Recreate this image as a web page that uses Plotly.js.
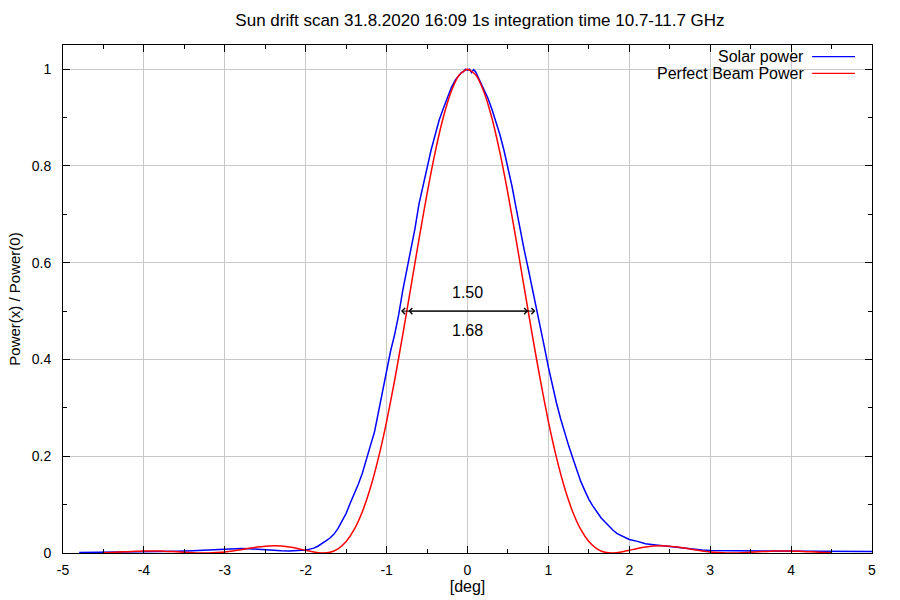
<!DOCTYPE html>
<html>
<head>
<meta charset="utf-8">
<script src="https://cdn.plot.ly/plotly-3.0.1.min.js"></script>
<style>html,body{margin:0;padding:0;background:#fff;}#chart{width:900px;height:600px;}</style>
</head>
<body>
<div id="chart"></div>
<script>
// Measured solar drift scan (blue)
const sunX = [-4.8,-4.6,-4.4,-4.2,-4.0,-3.8,-3.6,-3.4,-3.2,-3.0,-2.9,-2.8,-2.7,-2.6,-2.5,-2.4,-2.3,-2.2,-2.1,-2.05,
  -2.0,-1.95,-1.9,-1.85,-1.8,-1.75,-1.7,-1.65,-1.6,-1.55,-1.5,-1.45,-1.4,-1.35,-1.3,-1.25,-1.2,-1.15,-1.1,-1.05,
  -1.0,-0.95,-0.9,-0.85,-0.8,-0.75,-0.7,-0.65,-0.6,-0.55,-0.5,-0.45,-0.4,-0.35,-0.3,-0.25,-0.2,-0.15,-0.1,-0.075,
  -0.05,-0.025,0.0,0.025,0.05,0.075,0.1,0.15,0.2,0.25,0.3,0.35,0.4,0.45,0.5,0.55,0.6,0.65,0.7,0.75,0.8,0.85,0.9,
  0.95,1.0,1.05,1.1,1.15,1.2,1.25,1.3,1.35,1.4,1.45,1.5,1.55,1.6,1.65,1.7,1.75,1.8,1.85,1.9,1.95,2.0,
  2.1,2.2,2.3,2.4,2.5,2.6,2.7,2.8,2.9,3.0,3.5,4.05,4.1,4.5,5.0];
const sunY = [0.0010,0.0012,0.0015,0.0018,0.0020,0.0028,0.0035,0.0045,0.0060,0.0085,0.0090,0.0092,0.0088,0.0075,0.0060,0.0050,0.0045,0.0042,0.0045,0.0050,
  0.006,0.008,0.010,0.014,0.019,0.025,0.031,0.039,0.051,0.066,0.082,0.103,0.122,0.142,0.165,0.196,0.222,0.250,0.291,0.336,
  0.378,0.418,0.452,0.493,0.543,0.584,0.624,0.670,0.721,0.760,0.796,0.833,0.864,0.895,0.918,0.941,0.962,0.978,0.989,0.993,
  0.995,1.000,0.998,1.000,0.993,0.999,0.995,0.978,0.961,0.941,0.918,0.893,0.865,0.833,0.796,0.758,0.714,0.669,0.627,0.588,0.549,0.505,0.468,
  0.426,0.384,0.345,0.310,0.278,0.249,0.222,0.197,0.172,0.148,0.129,0.111,0.097,0.084,0.073,0.064,0.055,0.047,0.040,0.036,0.032,0.028,
  0.024,0.019,0.017,0.015,0.014,0.012,0.010,0.008,0.006,0.005,0.0045,0.0045,0.003,0.003,0.003];

// Perfect beam (red)
const beamX = [-4.5,-4.4,-4.3,-4.2,-4.1,-4.0,-3.9,-3.8,-3.7,-3.6,-3.5,-3.4,-3.3,-3.2,-3.1,-3.0,-2.9,-2.8,-2.7,-2.6,-2.5,-2.4,-2.3,-2.2,-2.1,
  -2.0,-1.9,-1.8,-1.7,-1.6,-1.5,-1.4,-1.3,-1.2,-1.1,-1.0,-0.9,-0.8,-0.7,-0.6,-0.5,-0.4,-0.3,-0.2,-0.1,
  0.0,0.1,0.2,0.3,0.4,0.5,0.6,0.7,0.8,0.9,1.0,1.1,1.2,1.3,1.4,1.5,1.6,1.7,1.8,1.9,2.0,
  2.1,2.2,2.3,2.4,2.5,2.6,2.7,2.8,2.9,3.0,3.1,3.2,3.3,3.4,3.5,3.6,3.7,3.8,3.9,4.0,4.1,4.2,4.3,4.4,4.5];
const beamY = [0.0006,0.0012,0.0020,0.0028,0.0035,0.0040,0.0042,0.0039,0.0033,0.0025,0.0015,0.0006,0.0001,0.0001,0.0008,0.0022,0.0043,0.0069,0.0096,0.0122,0.0141,0.0150,0.0145,0.0126,0.0094,
  0.0056,0.0020,0.0001,0.0014,0.0085,0.0236,0.0486,0.0853,0.1347,0.1970,0.2716,0.3576,0.4512,0.5495,0.6482,0.7426,0.8280,0.9000,0.9545,0.9884,
  1.0000,0.9884,0.9545,0.9000,0.8280,0.7426,0.6482,0.5495,0.4512,0.3576,0.2716,0.1970,0.1347,0.0853,0.0486,0.0236,0.0085,0.0014,0.0001,0.0020,0.0056,
  0.0094,0.0126,0.0145,0.0150,0.0141,0.0122,0.0096,0.0069,0.0043,0.0022,0.0008,0.0001,0.0001,0.0006,0.0015,0.0025,0.0033,0.0039,0.0042,0.0040,0.0035,0.0028,0.0020,0.0012,0.0006];

const seriesNames = ['Solar power', 'Perfect Beam Power'];
const seriesColors = ['#0000ff', '#ff0000'];
const fwhmBeam = 1.50;
const fwhmSun = 1.68;
const halfLevel = 0.5;
const xTicks = [-5,-4,-3,-2,-1,0,1,2,3,4,5];
const yTicks = [0,0.2,0.4,0.6,0.8,1];
const yTickText = ['0','0.2','0.4','0.6','0.8','1'];

const FONT = '"Liberation Sans", Arial, Helvetica, sans-serif';

const traces = [
  {x: sunX, y: sunY, mode: 'lines', name: seriesNames[0], line: {color: seriesColors[0], width: 1.5}, showlegend: false, hoverinfo: 'skip'},
  {x: beamX, y: beamY, mode: 'lines', name: seriesNames[1], line: {color: seriesColors[1], width: 1.5, shape: 'spline', smoothing: 0.6}, showlegend: false, hoverinfo: 'skip'}
];

function fwhmArrow(w) {
  return {x: w / 2, y: halfLevel, ax: -w / 2, ay: halfLevel, xref: 'x', yref: 'y', axref: 'x', ayref: 'y',
    text: '', showarrow: true, arrowhead: 4, startarrowhead: 4, arrowside: 'end+start', arrowsize: 1.2, startarrowsize: 1.2,
    arrowwidth: 1, arrowcolor: '#000', standoff: 0, startstandoff: 0};
}

const legendTextX = 0.918;
const annotations = [
  fwhmArrow(fwhmSun),
  fwhmArrow(fwhmBeam),
  {x: 0, y: halfLevel + 0.038, xref: 'x', yref: 'y', text: fwhmBeam.toFixed(2), showarrow: false, font: {family: FONT, size: 16, color: '#000'}},
  {x: 0, y: halfLevel - 0.04, xref: 'x', yref: 'y', text: fwhmSun.toFixed(2), showarrow: false, font: {family: FONT, size: 16, color: '#000'}},
  {x: legendTextX, y: 0.977, xref: 'paper', yref: 'paper', xanchor: 'right', yanchor: 'middle', text: seriesNames[0], showarrow: false, font: {family: FONT, size: 16, color: '#000'}},
  {x: legendTextX, y: 0.944, xref: 'paper', yref: 'paper', xanchor: 'right', yanchor: 'middle', text: seriesNames[1], showarrow: false, font: {family: FONT, size: 16, color: '#000'}}
];

const shapes = [
  {type: 'rect', xref: 'paper', yref: 'paper', x0: 0.717, x1: 0.999, y0: 0.929, y1: 0.999, fillcolor: '#fff', line: {width: 0}, layer: 'between'},
  {type: 'line', xref: 'paper', yref: 'paper', x0: 0.926, x1: 0.979, y0: 0.977, y1: 0.977, line: {color: seriesColors[0], width: 1.2}},
  {type: 'line', xref: 'paper', yref: 'paper', x0: 0.926, x1: 0.979, y0: 0.944, y1: 0.944, line: {color: seriesColors[1], width: 1.2}}
];

const layout = {
  width: 900, height: 600,
  margin: {l: 63, r: 28, t: 45, b: 47},
  paper_bgcolor: '#fff', plot_bgcolor: '#fff',
  font: {family: FONT, size: 14, color: '#000'},
  title: {text: 'Sun drift scan 31.8.2020 16:09 1s integration time 10.7-11.7 GHz', xref: 'container', x: 0.5333, xanchor: 'center', y: 0.966, yanchor: 'middle', font: {family: FONT, size: 17, color: '#000'}},
  showlegend: false,
  xaxis: {
    range: [-5, 5], tickmode: 'array', tickvals: xTicks, ticktext: xTicks.map(String),
    ticks: 'inside', ticklen: 7, tickcolor: '#000', tickwidth: 1,
    minor: {dtick: 0.5, ticks: 'inside', ticklen: 4, tickcolor: '#000', showgrid: false},
    showgrid: true, gridcolor: '#c8c8c8', gridwidth: 1,
    showline: true, linecolor: '#000', linewidth: 1, mirror: 'ticks', zeroline: false,
    tickfont: {family: FONT, size: 14}, ticklabelstandoff: 4,
    title: {text: '[deg]', font: {family: FONT, size: 16}, standoff: 4}
  },
  yaxis: {
    range: [0, 1.05], tickmode: 'array', tickvals: yTicks, ticktext: yTickText,
    ticks: 'inside', ticklen: 7, tickcolor: '#000', tickwidth: 1,
    minor: {dtick: 0.1, ticks: 'inside', ticklen: 4, tickcolor: '#000', showgrid: false},
    showgrid: true, gridcolor: '#c8c8c8', gridwidth: 1,
    showline: true, linecolor: '#000', linewidth: 1, mirror: 'ticks', zeroline: false,
    tickfont: {family: FONT, size: 14}, ticklabelstandoff: 8,
    title: {text: 'Power(x) / Power(0)', font: {family: FONT, size: 15}, standoff: 7}
  },
  annotations: annotations,
  shapes: shapes
};

Plotly.newPlot('chart', traces, layout, {staticPlot: true, displayModeBar: false});
</script>
</body>
</html>
